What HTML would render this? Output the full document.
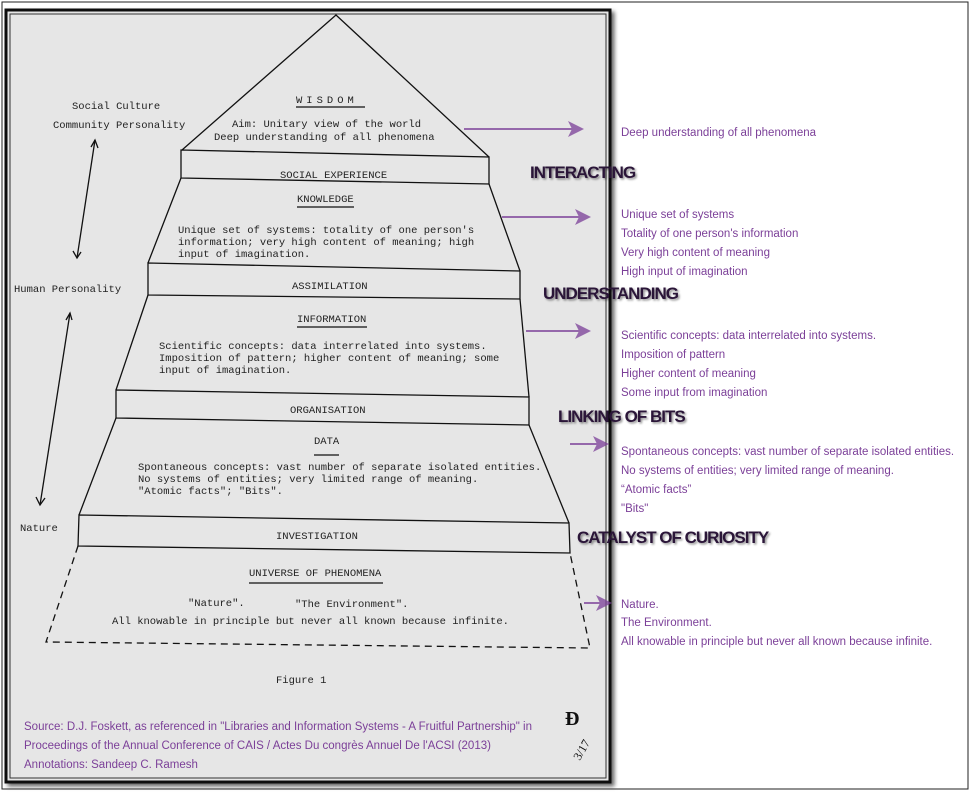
<!DOCTYPE html>
<html><head><meta charset="utf-8"><style>
html,body{margin:0;padding:0;background:#fff;}
body{width:970px;height:792px;overflow:hidden;position:relative;}
svg{position:absolute;left:0;top:0;}
.m{font-family:"Liberation Mono",monospace;font-size:10.5px;fill:#222;}
.a{font-family:"Liberation Sans",sans-serif;font-size:11.5px;fill:#7b3f98;}
.h{font-family:"Liberation Sans",sans-serif;font-size:17px;font-weight:bold;fill:#2a1238;letter-spacing:-1px;}
</style></head><body>
<svg width="970" height="792" viewBox="0 0 970 792">
<defs>
<filter id="sh" x="-5%" y="-5%" width="110%" height="110%"><feDropShadow dx="3" dy="3" stdDeviation="2" flood-color="#000" flood-opacity="0.6"/></filter>
<filter id="ts"><feDropShadow dx="1.5" dy="1.5" stdDeviation="1" flood-color="#000" flood-opacity="0.45"/></filter>
<marker id="ar" markerWidth="8" markerHeight="8" refX="7" refY="4" orient="auto"><path d="M0,0 L8,4 L0,8 L2,4 Z" fill="#7b3f98"/></marker>
</defs>
<rect x="2" y="2" width="966" height="787" fill="#fff" stroke="#222" stroke-width="1"/>
<rect x="6" y="10" width="604" height="772" fill="#e6e6e6" stroke="#111" stroke-width="3" filter="url(#sh)"/>
<rect x="10" y="14" width="596" height="764" fill="none" stroke="#333" stroke-width="1"/>
<g fill="none" stroke="#111" stroke-width="1.3">
<path d="M182,150 L336,15 L489,157"/>
<path d="M181,150 L489,157 L489,184 L181,178 Z"/>
<path d="M181,178 L148,263 M489,184 L520,271"/>
<path d="M148,263 L520,271 L520,299 L148,295 Z"/>
<path d="M148,295 L116,390 M520,299 L529,397"/>
<path d="M116,390 L529,397 L529,425 L116,418 Z"/>
<path d="M116,418 L79,515 M529,425 L569,523"/>
<path d="M79,515 L569,523 L570,553 L78,546 Z"/>
<path d="M78,546 L46,642 L590,648 L570,553" stroke-dasharray="7,5"/>
<path d="M95,140 L77,258 M70,313 L40,505"/>
<path d="M91,147 L95,140 L98,148 M73,251 L77,258 L81,252"/>
<path d="M66,320 L70,313 L72,320 M36,497 L40,505 L45,498"/>
<path d="M296,107 L365,107 M297,207 L354,207 M297,327 L367,327 M314,455 L339,455 M249,583 L383,583"/>
</g>
<g class="m">
<text x="72" y="109">Social Culture</text>
<text x="53" y="128">Community Personality</text>
<text x="14" y="292">Human Personality</text>
<text x="20" y="531">Nature</text>
<text x="296" y="103" letter-spacing="4">WISDOM</text>
<text x="232" y="127">Aim: Unitary view of the world</text>
<text x="214" y="140">Deep understanding of all phenomena</text>
<text x="280" y="178">SOCIAL EXPERIENCE</text>
<text x="297" y="202">KNOWLEDGE</text>
<text x="178" y="233">Unique set of systems: totality of one person's</text>
<text x="178" y="245">information; very high content of meaning; high</text>
<text x="178" y="257">input of imagination.</text>
<text x="292" y="289">ASSIMILATION</text>
<text x="297" y="322">INFORMATION</text>
<text x="159" y="349">Scientific concepts: data interrelated into systems.</text>
<text x="159" y="361">Imposition of pattern; higher content of meaning; some</text>
<text x="159" y="373">input of imagination.</text>
<text x="290" y="413">ORGANISATION</text>
<text x="314" y="444">DATA</text>
<text x="138" y="470">Spontaneous concepts: vast number of separate isolated entities.</text>
<text x="138" y="482">No systems of entities; very limited range of meaning.</text>
<text x="138" y="494">"Atomic facts";  "Bits".</text>
<text x="276" y="539">INVESTIGATION</text>
<text x="249" y="576">UNIVERSE OF PHENOMENA</text>
<text x="188" y="606">"Nature".</text>
<text x="295" y="607">"The Environment".</text>
<text x="112" y="624">All knowable in principle but never all known because infinite.</text>
<text x="276" y="683">Figure 1</text>
</g>
<text x="565" y="725" font-family="Liberation Serif,serif" font-size="20" font-weight="bold" fill="#111">Ɖ</text>
<text x="571" y="758" font-family="Liberation Serif,serif" font-size="12" fill="#111" transform="rotate(-60 578 752)">3/17</text>
<g class="a">
<text x="24" y="730">Source: D.J. Foskett, as referenced in "Libraries and Information Systems - A Fruitful Partnership" in</text>
<text x="24" y="749">Proceedings of the Annual Conference of CAIS / Actes Du congrès Annuel De l'ACSI (2013)</text>
<text x="24" y="768">Annotations: Sandeep C. Ramesh</text>
<text x="621" y="136">Deep understanding of all phenomena</text>
<text x="621" y="218">Unique set of systems</text>
<text x="621" y="237">Totality of one person's information</text>
<text x="621" y="256">Very high content of meaning</text>
<text x="621" y="275">High input of imagination</text>
<text x="621" y="339">Scientific concepts: data interrelated into systems.</text>
<text x="621" y="358">Imposition of pattern</text>
<text x="621" y="377">Higher content of meaning</text>
<text x="621" y="396">Some input from imagination</text>
<text x="621" y="455">Spontaneous concepts: vast number of separate isolated entities.</text>
<text x="621" y="474">No systems of entities; very limited range of meaning.</text>
<text x="621" y="493">“Atomic facts”</text>
<text x="621" y="512">"Bits"</text>
<text x="621" y="608">Nature.</text>
<text x="621" y="626">The Environment.</text>
<text x="621" y="645">All knowable in principle but never all known because infinite.</text>
</g>
<g stroke="#7b3f98" stroke-width="2" marker-end="url(#ar)" opacity="0.75">
<line x1="464" y1="129" x2="582" y2="129"/>
<line x1="502" y1="217" x2="589" y2="217"/>
<line x1="526" y1="331" x2="589" y2="331"/>
<line x1="570" y1="444" x2="607" y2="444"/>
<line x1="584" y1="603" x2="610" y2="603"/>
</g>
<g class="h" filter="url(#ts)">
<text x="530" y="178">INTERACTING</text>
<text x="543" y="299">UNDERSTANDING</text>
<text x="558" y="422">LINKING OF BITS</text>
<text x="577" y="543">CATALYST OF CURIOSITY</text>
</g>
</svg>
</body></html>
